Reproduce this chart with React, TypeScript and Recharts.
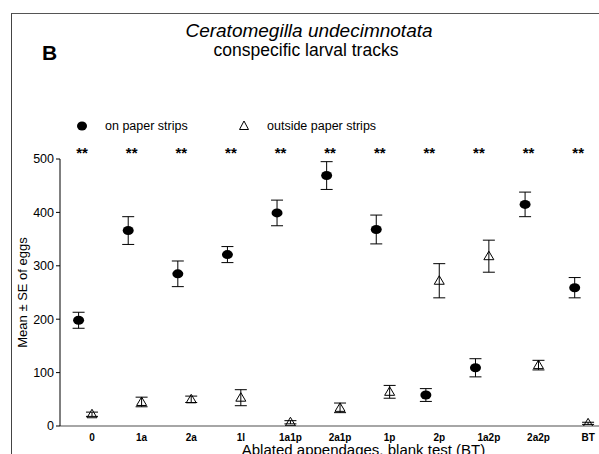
import React from 'react';
import { ScatterChart, Scatter, XAxis, YAxis, ErrorBar, ReferenceDot } from 'recharts';

const categories = ['0', '1a', '2a', '1l', '1a1p', '2a1p', '1p', '2p', '1a2p', '2a2p', 'BT'];
const onPaperMean = [198, 366, 285, 321, 399, 469, 368, 58, 109, 415, 259];
const onPaperSE = [15, 26, 24, 15, 24, 26, 27, 12, 17, 23, 19];
const outsideMean = [22, 45, 50, 53, 7, 34, 64, 272, 318, 114, 5];
const outsideSE = [4, 9, 6, 15, 3, 9, 12, 32, 30, 9, 2];
const significance = ['**', '**', '**', '**', '**', '**', '**', '**', '**', '**', '**'];
const yTicks = [0, 100, 200, 300, 400, 500];

const FONT = '"Liberation Sans", Arial, Helvetica, sans-serif';
const ON_OFFSET = -0.27;
const STAR_OFFSET = -0.2;
const STAR_LEVEL = 519;

const onData = categories.map((c, i) => ({ x: i + ON_OFFSET, y: onPaperMean[i], err: onPaperSE[i], name: c }));
const outData = categories.map((c, i) => ({ x: i, y: outsideMean[i], err: outsideSE[i], name: c }));
const xTicks = categories.map((_, i) => i);

const CircleShape = (p: any) => <ellipse cx={p.cx} cy={p.cy} rx={5.5} ry={4.5} fill="#000" />;
const TriShape = (p: any) => {
  const { cx, cy } = p;
  return (
    <polygon
      points={`${cx},${cy - 5} ${cx - 5},${cy + 3.5} ${cx + 5},${cy + 3.5}`}
      fill="none"
      stroke="#000"
      strokeWidth={1}
    />
  );
};

const YLabel = (props: any) => {
  const vb = props.viewBox || { x: 10, y: 159, width: 50, height: 267 };
  const x = vb.x + 12;
  const y = vb.y + vb.height / 2;
  return (
    <text x={x} y={y} transform={`rotate(-90, ${x}, ${y})`} textAnchor="middle" dominantBaseline="central"
      fontFamily={FONT} fontSize={13} fill="#000">
      Mean ± SE of eggs
    </text>
  );
};

const XLabel = (props: any) => {
  const vb = props.viewBox || { x: 60, y: 426, width: 539, height: 20 };
  const x = vb.x + vb.width / 2 + 34;
  const y = vb.y + vb.height + 9;
  return (
    <text x={x} y={y} textAnchor="middle" fontFamily={FONT} fontSize={15} fill="#000">
      Ablated appendages, blank test (BT)
    </text>
  );
};

export default function App() {
  return (
    <div style={{ position: 'absolute', left: 0, top: 0, width: 599, height: 454, background: '#fff', overflow: 'hidden' }}>
      <div style={{ position: 'absolute', left: 11, top: 13, width: 588, height: 441, borderTop: '1px solid #555', borderLeft: '1px solid #444' }} />
      <svg width={599} height={140} style={{ position: 'absolute', left: 0, top: 0 }}>
        <text x={309} y={37} textAnchor="middle" fontFamily={FONT} fontStyle="italic" fontSize={19} fill="#000">
          Ceratomegilla undecimnotata
        </text>
        <text x={306} y={56} textAnchor="middle" fontFamily={FONT} fontSize={17.5} fill="#000">
          conspecific larval tracks
        </text>
        <text x={42} y={60} fontFamily={FONT} fontWeight="bold" fontSize={21} fill="#000">B</text>
        <ellipse cx={82} cy={126} rx={5} ry={4.5} fill="#000" />
        <text x={105} y={130} fontFamily={FONT} fontSize={12.5} fill="#000">on paper strips</text>
        <polygon points="244,121 239.5,129.5 248.5,129.5" fill="none" stroke="#000" strokeWidth={1} />
        <text x={267} y={130} fontFamily={FONT} fontSize={12.5} fill="#000">outside paper strips</text>
      </svg>
      <div style={{ position: 'absolute', left: 0, top: 0 }}>
        <ScatterChart width={599} height={454} margin={{ top: 159, right: 0, bottom: 8, left: 10 }}>
          <XAxis
            type="number"
            dataKey="x"
            domain={[-0.645, 10.22]}
            allowDataOverflow
            ticks={xTicks}
            interval={0}
            tickFormatter={(v: number) => categories[v] ?? ''}
            tickLine={false}
            axisLine={{ stroke: '#888', strokeWidth: 1.5 }}
            tick={{ fontSize: 10, fontWeight: 'bold', fill: '#000', fontFamily: FONT }}
            height={20}
            label={<XLabel />}
          />
          <YAxis
            type="number"
            dataKey="y"
            domain={[0, 500]}
            ticks={yTicks}
            allowDataOverflow
            width={50}
            tickSize={4}
            tickLine={{ stroke: '#000' }}
            axisLine={{ stroke: '#000' }}
            tick={{ fontSize: 12.5, fill: '#000', fontFamily: FONT }}
            label={<YLabel />}
          />
          <Scatter data={outData} shape={TriShape} isAnimationActive={false}>
            <ErrorBar dataKey="err" direction="y" width={6} stroke="#000" strokeWidth={1} />
          </Scatter>
          <Scatter data={onData} shape={CircleShape} isAnimationActive={false}>
            <ErrorBar dataKey="err" direction="y" width={6} stroke="#000" strokeWidth={1} />
          </Scatter>
          {significance.map((s, i) => (
            <ReferenceDot
              key={`star-${i}`}
              x={i + STAR_OFFSET}
              y={STAR_LEVEL}
              r={0}
              ifOverflow="visible"
              shape={(p: any) => (
                <text x={p.cx} y={p.cy + 9} textAnchor="middle" fontFamily={FONT} fontWeight="bold" fontSize={15} fill="#000">
                  {s}
                </text>
              )}
            />
          ))}
        </ScatterChart>
      </div>
    </div>
  );
}
